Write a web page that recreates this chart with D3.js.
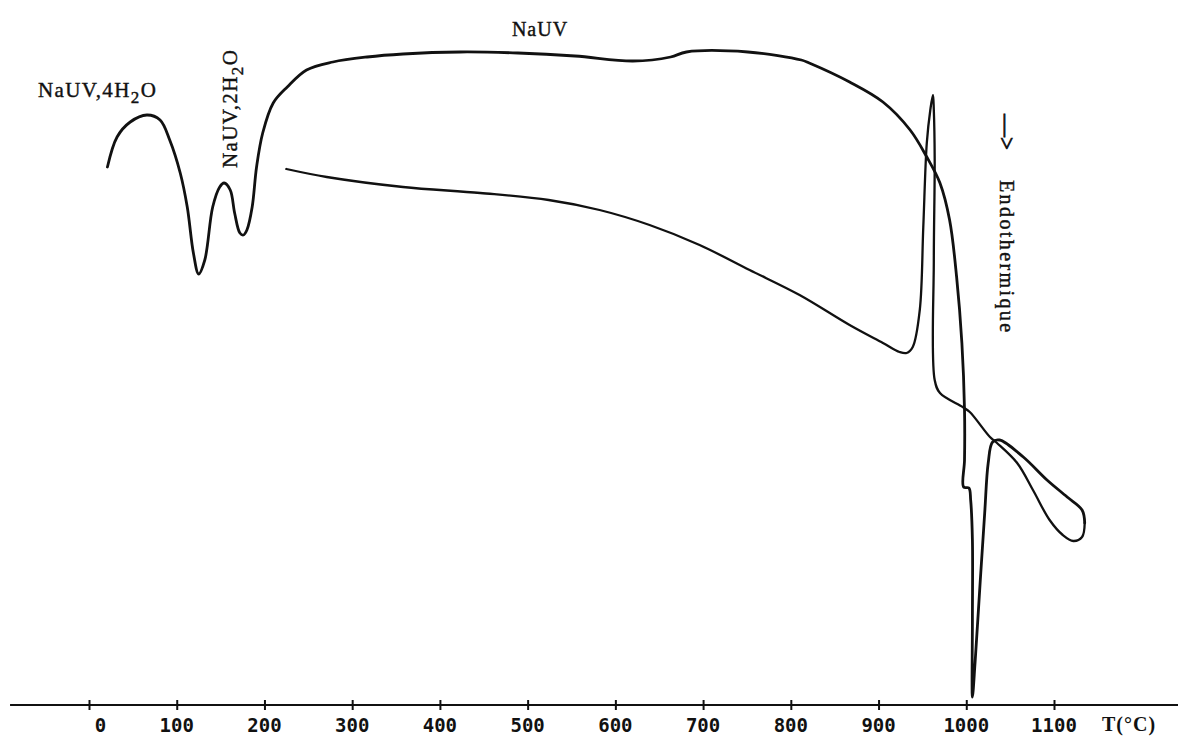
<!DOCTYPE html>
<html>
<head>
<meta charset="utf-8">
<script src="https://cdn.jsdelivr.net/npm/d3@7"></script>
<style>
  html, body { margin: 0; padding: 0; background: #fff; }
  svg { display: block; }
  .serif { font-family: "Liberation Serif", "Times New Roman", serif; fill: #111; }
  .tick-label { font-family: "DejaVu Sans Mono", "Liberation Mono", monospace; font-weight: bold; font-size: 19px; fill: #111; white-space: pre; }
</style>
</head>
<body>
<svg id="chart" width="1178" height="737"></svg>
<script>
// Temperature axis (°C)
const tickValues = [0, 100, 200, 300, 400, 500, 600, 700, 800, 900, 1000, 1100];
const tickLabels = ["0", "100", "200", "300", "400", "500", "600", "700", "800", "900", "1000", "1100"];

// DTA trace, heating run: temperature (°C) and signal (arbitrary units)
const heatT = [21, 32, 47, 66, 81, 92, 104, 112, 119, 125, 132, 141, 149, 154, 161, 166, 172, 176, 180, 186,
  191, 198, 210, 226, 248, 278, 317, 358, 423, 489, 554, 620, 663, 681, 751, 812, 821, 867, 905, 936,
  955, 970, 981, 989, 995, 998, 998, 997, 1003, 1005, 1007, 1007, 1007, 1010, 1016, 1021, 1025, 1030, 1038,
  1065, 1092, 1115, 1132, 1135];
const heatS = [53.8, 56.8, 58.3, 59.0, 58.5, 56.5, 53.2, 49.8, 45.2, 43.1, 44.5, 49.8, 51.8, 52.2, 51.5, 49.2, 47.2, 47.0, 47.5, 49.8,
  53.8, 57.2, 60.2, 61.8, 63.5, 64.3, 64.8, 65.1, 65.3, 65.2, 64.9, 64.4, 64.8, 65.3, 65.3, 64.5, 64.2, 62.3, 60.3, 57.5,
  54.8, 52.2, 48.5, 42.8, 36.2, 29.5, 24.5, 21.8, 21.7, 20.5, 16.5, 8.5, 0.8, 4.2, 12.5, 19.2, 24.2, 26.3, 26.5,
  24.8, 22.5, 20.8, 19.5, 18.2];

// DTA trace, cooling run
const coolT = [1135, 1132, 1122, 1110, 1095, 1076, 1058, 1035, 1027, 1004, 996, 970, 964, 963, 964, 963, 962, 959, 955, 951,
  947, 939, 932, 924, 905, 867, 810, 753, 696, 639, 582, 524, 446, 358, 271, 225];
const coolS = [18.2, 16.8, 16.4, 17.0, 18.5, 21.5, 24.2, 26.2, 26.8, 29.3, 29.8, 31.2, 32.5, 44.5, 54.5, 59.5, 61.0, 59.5, 56.2, 47.8,
  39.5, 35.8, 35.2, 35.3, 36.2, 38.0, 41.0, 43.5, 46.0, 48.0, 49.5, 50.5, 51.2, 51.8, 52.8, 53.6];

// Extent of the drawn baseline (°C)
const axisExtent = [-90, 1245];

const svg = d3.select("#chart");
const axisY = 705;

const x = d3.scaleLinear().domain([0, 1100]).range([89, 1054]);
const y = d3.scaleLinear().domain([0, 70.5]).range([axisY, 0]);

// Baseline
svg.append("line")
  .attr("x1", x(axisExtent[0])).attr("x2", x(axisExtent[1]))
  .attr("y1", axisY).attr("y2", axisY)
  .attr("stroke", "#111").attr("stroke-width", 2);

// Ticks crossing the baseline
const axis = d3.axisBottom(x).tickValues(tickValues).tickSize(5).tickFormat("");
const gAxis = svg.append("g").attr("transform", `translate(0,${axisY})`).call(axis);
gAxis.select(".domain").remove();
gAxis.selectAll(".tick line").attr("y1", -5).attr("y2", 5).attr("stroke", "#111").attr("stroke-width", 2);

// Tick labels (right-aligned in a three-character field, centred under the tick)
svg.append("g").selectAll("text")
  .data(tickValues)
  .join("text")
  .attr("class", "tick-label")
  .attr("x", d => x(d))
  .attr("y", 732)
  .attr("text-anchor", "middle")
  .attr("xml:space", "preserve")
  .text((d, i) => tickLabels[i].padStart(3, " "));

svg.append("text")
  .attr("class", "serif")
  .attr("x", 1102).attr("y", 731)
  .attr("font-size", 20).attr("font-weight", "bold").attr("letter-spacing", 1)
  .text("T(°C)");

// Curves
const line = d3.line()
  .x(d => x(d[0]))
  .y(d => y(d[1]))
  .curve(d3.curveCatmullRom.alpha(0.5));

const heat = heatT.map((t, i) => [t, heatS[i]]);
const cool = coolT.map((t, i) => [t, coolS[i]]);

svg.append("path")
  .attr("d", line(heat))
  .attr("fill", "none").attr("stroke", "#111")
  .attr("stroke-width", 2.8).attr("stroke-linejoin", "round").attr("stroke-linecap", "round");

svg.append("path")
  .attr("d", line(cool))
  .attr("fill", "none").attr("stroke", "#111")
  .attr("stroke-width", 2.3).attr("stroke-linejoin", "round").attr("stroke-linecap", "round");

// Phase labels
function hydrate(sel, n) {
  sel.append("tspan").text("NaUV," + n + "H");
  sel.append("tspan").attr("dy", 6).attr("font-size", 17).text("2");
  sel.append("tspan").attr("dy", -6).text("O");
}

const lab1 = svg.append("text").attr("class", "serif")
  .attr("x", 38).attr("y", 97)
  .attr("font-size", 21).attr("letter-spacing", 1.4)
  .attr("stroke", "#111").attr("stroke-width", 0.4);
hydrate(lab1, 4);

const lab2 = svg.append("text").attr("class", "serif")
  .attr("transform", "translate(237,168) rotate(-90)")
  .attr("font-size", 21).attr("letter-spacing", 1.4)
  .attr("stroke", "#111").attr("stroke-width", 0.4);
hydrate(lab2, 2);

svg.append("text").attr("class", "serif")
  .attr("x", 540).attr("y", 36)
  .attr("text-anchor", "middle")
  .attr("font-size", 20).attr("letter-spacing", 1)
  .attr("stroke", "#111").attr("stroke-width", 0.4)
  .text("NaUV");

// Endothermic direction marker
svg.append("text").attr("class", "serif")
  .attr("transform", "translate(999,114) rotate(90)")
  .attr("font-size", 23)
  .attr("fill", "#111").attr("stroke", "#111").attr("stroke-width", 0.8)
  .text("—>");

svg.append("text").attr("class", "serif")
  .attr("transform", "translate(1000,180) rotate(90)")
  .attr("font-size", 20).attr("letter-spacing", 2.4)
  .attr("stroke", "#111").attr("stroke-width", 0.4)
  .text("Endothermique");
</script>
</body>
</html>
